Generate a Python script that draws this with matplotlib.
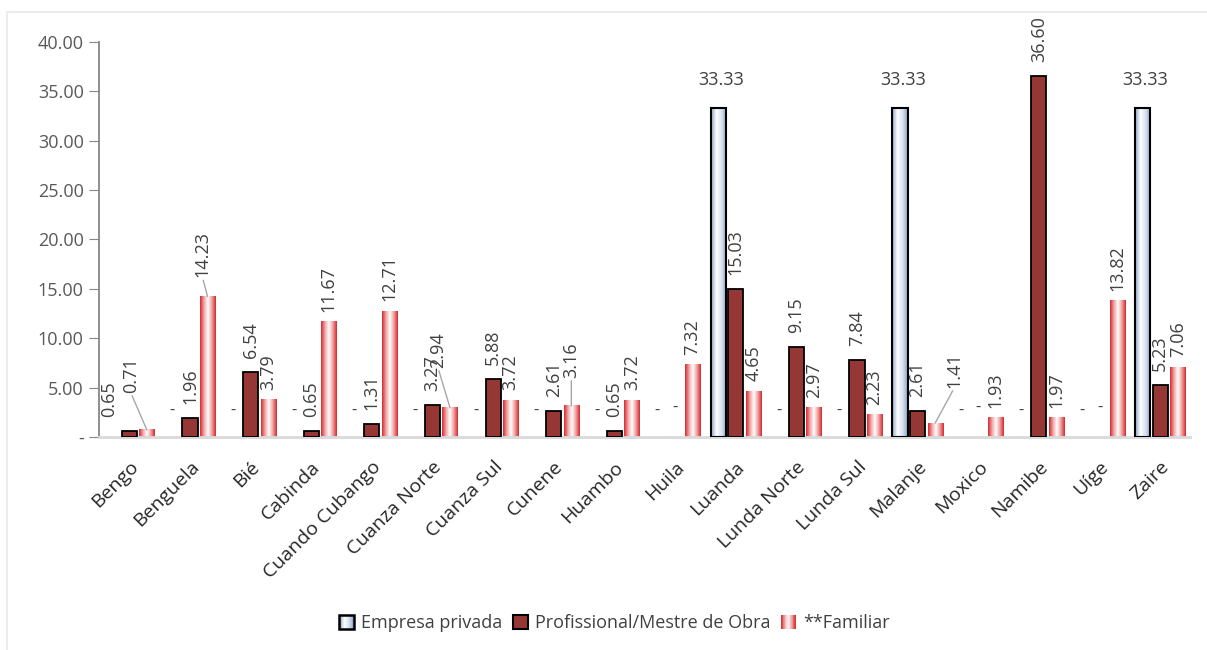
import numpy as np
import matplotlib
matplotlib.use("Agg")
import matplotlib.pyplot as plt
from matplotlib.colors import LinearSegmentedColormap
from matplotlib.patches import Patch, Rectangle
from matplotlib.legend_handler import HandlerBase
from matplotlib.lines import Line2D
from matplotlib.transforms import ScaledTranslation

plt.rcParams['font.family'] = ['Open Sans', 'DejaVu Sans']

# DATA
provinces = ["Bengo", "Benguela", "Bié", "Cabinda", "Cuando Cubango", "Cuanza Norte",
             "Cuanza Sul", "Cunene", "Huambo", "Huila", "Luanda", "Lunda Norte",
             "Lunda Sul", "Malanje", "Moxico", "Namibe", "Uíge", "Zaire"]
empresa = [0, 0, 0, 0, 0, 0, 0, 0, 0, 0, 33.33, 0, 0, 33.33, 0, 0, 0, 33.33]
profissional = [0.65, 1.96, 6.54, 0.65, 1.31, 3.27, 5.88, 2.61, 0.65, 0,
                15.03, 9.15, 7.84, 2.61, 0, 36.60, 0, 5.23]
familiar = [0.71, 14.23, 3.79, 11.67, 12.71, 2.94, 3.72, 3.16, 3.72, 7.32,
            4.65, 2.97, 2.23, 1.41, 1.93, 1.97, 13.82, 7.06]
series_names = ["Empresa privada", "Profissional/Mestre de Obra", "**Familiar"]
yticks = [0, 5, 10, 15, 20, 25, 30, 35, 40]

# labels that were dragged away from their bar in the original (series, index): (dx, dy) pixels
moved_labels = {(1, 0): (-20, 0), (2, 0): (-16, 27), (2, 1): (-5, 9), (2, 5): (-12, 30),
                (2, 7): (0, 18), (2, 13): (19, 25)}
leader_lines = [(2, 0), (2, 1), (2, 5), (2, 7), (2, 13)]
hidden_labels = [(0, 0)]

emp_cmap = LinearSegmentedColormap.from_list(
    "emp", [(0, '#8fa3c5'), (0.35, '#ffffff'), (0.7, '#d3deee'), (1, '#8ba0c3')])
fam_cmap = LinearSegmentedColormap.from_list(
    "fam", [(0, '#d42a2e'), (0.25, '#f2a5a6'), (0.5, '#ffffff'), (0.75, '#f0a0a0'), (1, '#d42a2e')])
prof_color = '#953735'
label_color = '#404040'


class GradientHandler(HandlerBase):
    # draws the legend key as a row of thin stripes so it looks like the gradient bars
    def __init__(self, cmap, edge=None):
        super().__init__()
        self.cmap = cmap
        self.edge = edge

    def create_artists(self, legend, orig_handle, xdescent, ydescent, width, height, fontsize, trans):
        n = 20
        artists = []
        for i in range(n):
            artists.append(Rectangle((-xdescent + i * width / n, -ydescent), width / n, height,
                                     facecolor=self.cmap((i + 0.5) / n), edgecolor='none',
                                     transform=trans))
        if self.edge:
            artists.append(Rectangle((-xdescent, -ydescent), width, height, fill=False,
                                     edgecolor=self.edge, lw=1.8, transform=trans))
        return artists


fig = plt.figure(figsize=(12.07, 6.5), dpi=100)
ax = fig.add_axes([0.0820, 0.3277, 0.9043, 0.6077])

x = np.arange(len(provinces))
width = 0.25
shift = 0.29

# zero bars get no outline, like the original
emp_lw = [1.5 if v > 0 else 0 for v in empresa]
prof_lw = [1.3 if v > 0 else 0 for v in profissional]
bars_emp = ax.bar(x - shift, empresa, width, facecolor='none', edgecolor='black', lw=emp_lw, zorder=3)
bars_prof = ax.bar(x, profissional, width, facecolor=prof_color, edgecolor='black', lw=prof_lw, zorder=3)
bars_fam = ax.bar(x + shift, familiar, width, facecolor='none', edgecolor='none', zorder=3)

grad = np.linspace(0, 1, 64).reshape(1, -1)
for bars, cmap in [(bars_emp, emp_cmap), (bars_fam, fam_cmap)]:
    for p in bars:
        if p.get_height() > 0:
            ax.imshow(grad, cmap=cmap, aspect='auto', interpolation='bilinear', zorder=2,
                      extent=[p.get_x(), p.get_x() + p.get_width(), 0, p.get_height()])

# data labels
gaps = [14, 14, 10]
for s, (bars, vals) in enumerate([(bars_emp, empresa), (bars_prof, profissional), (bars_fam, familiar)]):
    for i, (p, v) in enumerate(zip(bars, vals)):
        if (s, i) in hidden_labels:
            continue
        cx = p.get_x() + p.get_width() / 2
        if v == 0:
            ax.annotate("-", (cx, 0), xytext=(0, 26 + 3 * s), textcoords='offset pixels',
                        ha='center', va='center', fontsize=12, color=label_color)
            continue
        if s == 0:
            ax.annotate(f"{v:.2f}", (cx, v), xytext=(3, 28), textcoords='offset pixels',
                        ha='center', va='center', fontsize=13, color=label_color)
            continue
        dx, dy = moved_labels.get((s, i), (0, 0))
        arrow = None
        if (s, i) in leader_lines:
            arrow = dict(arrowstyle='-', color='#a6a6a6', lw=1, relpos=(0.5, 0),
                         shrinkA=0, shrinkB=0)
        ax.annotate(f"{v:.2f}", (cx, v), xytext=(dx, gaps[s] + dy), textcoords='offset pixels',
                    ha='center', va='bottom', rotation=90, fontsize=13, color=label_color,
                    arrowprops=arrow)

ax.set_xlim(-0.5, len(provinces) - 0.5)
ax.set_ylim(0, 40)
ax.set_yticks(yticks)
ax.set_yticklabels(['-' if t == 0 else f"{t:.2f}" for t in yticks])
ax.set_xticks(x)
ax.set_xticklabels(provinces, rotation=45, ha='right', rotation_mode='anchor')
# nudge the slanted names a bit to the left, as in the original
for lbl in ax.get_xticklabels():
    lbl.set_transform(lbl.get_transform() + ScaledTranslation(-0.08, 0, fig.dpi_scale_trans))

ax.tick_params(axis='y', direction='out', length=7, color='#868686', labelsize=13,
               labelcolor='#595959', pad=4)
ax.tick_params(axis='x', length=0, labelsize=14, labelcolor='#262626', pad=15)
for side in ['top', 'right']:
    ax.spines[side].set_visible(False)
ax.spines['left'].set_color('#868686')
ax.spines['left'].set_linewidth(1.3)
ax.spines['bottom'].set_color('#d9d9d9')
ax.spines['bottom'].set_linewidth(2)

# legend
h_emp = Patch(label=series_names[0])
h_prof = Patch(facecolor=prof_color, edgecolor='black', lw=1.5, label=series_names[1])
h_fam = Patch(label=series_names[2])
fig.legend(handles=[h_emp, h_prof, h_fam], loc='center', bbox_to_anchor=(0.509, 0.0415),
           ncol=3, frameon=False, fontsize=13, handlelength=0.8, handleheight=0.8,
           handletextpad=0.4, columnspacing=0.6, labelcolor='#404040',
           handler_map={h_emp: GradientHandler(emp_cmap, 'black'), h_fam: GradientHandler(fam_cmap)})

# faint chart frame
fig.add_artist(Line2D([7 / 1207, 1], [1 - 12 / 650, 1 - 12 / 650], color='#ececec', lw=1.5))
fig.add_artist(Line2D([7 / 1207, 7 / 1207], [0, 1 - 12 / 650], color='#ececec', lw=1.5))

fig.savefig("out.png", dpi=100, facecolor='white')
